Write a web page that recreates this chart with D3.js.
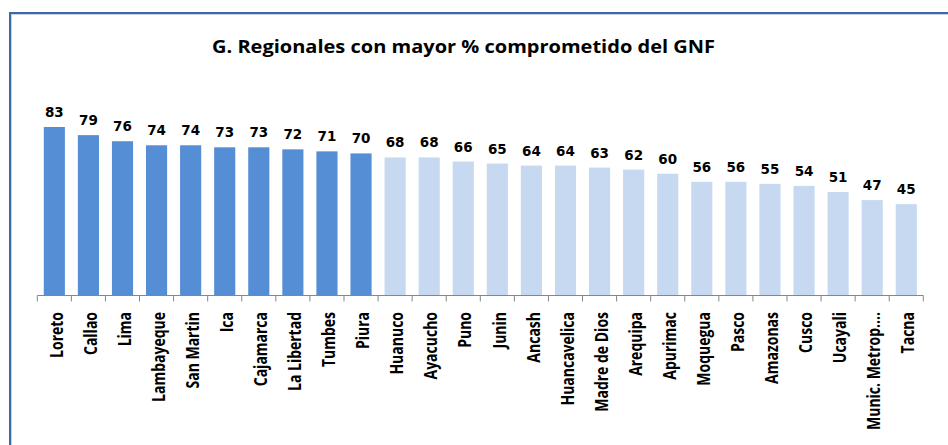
<!DOCTYPE html>
<html lang="es">
<head>
<meta charset="UTF-8">
<title>G. Regionales con mayor % comprometido del GNF</title>
<script src="https://d3js.org/d3.v7.min.js"></script>
<style>
    body { margin: 0; background: #fff; }
    .title { font-family: "Open Sans", sans-serif; font-weight: 700; font-size: 18px; }
    .val { font-family: "DejaVu Sans", sans-serif; font-weight: 700; font-size: 13.5px; }
    .cat { font-family: "Open Sans", sans-serif; font-weight: 700; font-size: 14px; }
</style>
</head>
<body>
<svg width="948" height="445"></svg>
<script>
    // regions and % comprometido
    const regions = ["Loreto", "Callao", "Lima", "Lambayeque", "San Martin", "Ica", "Cajamarca",
        "La Libertad", "Tumbes", "Piura", "Huanuco", "Ayacucho", "Puno", "Junin", "Ancash",
        "Huancavelica", "Madre de Dios", "Arequipa", "Apurimac", "Moquegua", "Pasco",
        "Amazonas", "Cusco", "Ucayali", "Munic. Metrop....", "Tacna"];
    const values = [83, 79, 76, 74, 74, 73, 73, 72, 71, 70, 68, 68, 66, 65, 64, 64, 63, 62,
        60, 56, 56, 55, 54, 51, 47, 45];
    const topCount = 10; // first ten are drawn darker

    const svg = d3.select("svg");

    // frame
    svg.append("rect").attr("x", 11.5).attr("y", 14.5).attr("width", 1000).attr("height", 1000)
        .attr("fill", "none").attr("stroke", "#c9d2e2").attr("stroke-width", 1);
    svg.append("rect").attr("x", 10).attr("y", 13).attr("width", 1000).attr("height", 1000)
        .attr("fill", "none").attr("stroke", "#3e68a8").attr("stroke-width", 2);

    // the source picture is stretched sideways, so the title is too
    svg.append("text").attr("class", "title")
        .attr("x", 212).attr("y", 53)
        .attr("textLength", 503).attr("lengthAdjust", "spacingAndGlyphs")
        .text("G. Regionales con mayor % comprometido del GNF");

    const x = d3.scaleBand().domain(regions).range([37.3, 923.3])
        .paddingInner(0.38).paddingOuter(0.19);
    const y = d3.scaleLinear().domain([0, 100]).range([295.5, 92.5]);

    // bars
    svg.append("g").selectAll("rect")
        .data(regions)
        .join("rect")
        .attr("x", d => x(d))
        .attr("width", x.bandwidth())
        .attr("y", (d, i) => y(values[i]))
        .attr("height", (d, i) => y(0) - y(values[i]))
        .attr("fill", (d, i) => i < topCount ? "#558ed5" : "#c6d9f1");

    // value labels
    svg.append("g").selectAll("text")
        .data(regions)
        .join("text")
        .attr("class", "val")
        .attr("x", d => x(d) + x.bandwidth() / 2)
        .attr("y", (d, i) => y(values[i]) - 10)
        .attr("text-anchor", "middle")
        .text((d, i) => values[i]);

    // axis line with ticks between categories
    const axis = svg.append("g").attr("stroke", "#868686").attr("stroke-width", 1);
    axis.append("line").attr("x1", 37.3).attr("x2", 923.3)
        .attr("y1", 295.5).attr("y2", 295.5);
    axis.selectAll("line.tick")
        .data(d3.range(regions.length + 1))
        .join("line")
        .attr("class", "tick")
        .attr("x1", i => 37.3 + i * x.step()).attr("x2", i => 37.3 + i * x.step())
        .attr("y1", 295.5).attr("y2", 301.5);

    // category labels, vertical, glyphs widened like the source
    svg.append("g").selectAll("text")
        .data(regions)
        .join("text")
        .attr("class", "cat")
        .attr("text-anchor", "end")
        .attr("dominant-baseline", "central")
        .attr("transform", d => `translate(${x(d) + x.bandwidth() / 2 + 1.5},312) rotate(-90) scale(1,1.3)`)
        .text(d => d);
</script>
</body>
</html>
